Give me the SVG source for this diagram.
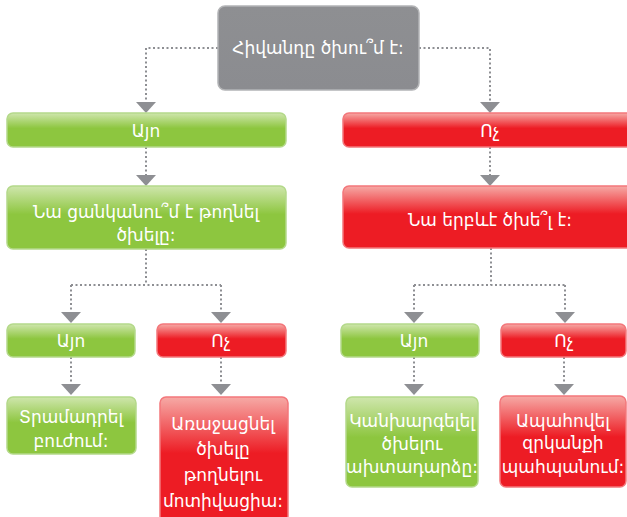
<svg xmlns="http://www.w3.org/2000/svg" width="627" height="517" viewBox="0 0 627 517">
  <defs>
    <linearGradient id="gGreen" x1="0" y1="0" x2="0" y2="1">
      <stop offset="0" stop-color="#cfe6ad"/>
      <stop offset="0.45" stop-color="#8dc63f"/>
      <stop offset="1" stop-color="#8dc63f"/>
    </linearGradient>
    <linearGradient id="gRed" x1="0" y1="0" x2="0" y2="1">
      <stop offset="0" stop-color="#f6aaa6"/>
      <stop offset="0.45" stop-color="#ed1c24"/>
      <stop offset="1" stop-color="#ed1c24"/>
    </linearGradient>
    <linearGradient id="gGray" x1="0" y1="0" x2="0" y2="1">
      <stop offset="0" stop-color="#8e8f92"/>
      <stop offset="1" stop-color="#8b8c90"/>
    </linearGradient>
  </defs>
  <style>
    .green { fill: url(#gGreen); stroke: #b4d98a; stroke-width: 1.5; }
    .red { fill: url(#gRed); stroke: #f3777b; stroke-width: 1.5; }
    .gray { fill: url(#gGray); stroke: #b3b4b6; stroke-width: 1.5; }
    .lbl { font-family: "DejaVu Sans", "Noto Sans", sans-serif; font-size: 17px; fill: #ffffff; text-anchor: middle; }
    .dot { fill: none; stroke: #8e8f93; stroke-width: 2; stroke-dasharray: 2 2.5; }
    .head { fill: #8e8f93; }
  </style>

  <g id="connectors">
    <path class="dot" d="M218 48 H146 V102"/>
    <path class="dot" d="M419 48 H490 V102"/>
    <path class="dot" d="M146 147 V175"/>
    <path class="dot" d="M490 147 V175"/>
    <path class="dot" d="M146 249 V285 M71 285 H221 M71 285 V312 M221 285 V312"/>
    <path class="dot" d="M491 248 V285 M414 285 H565 M414 285 V312 M565 285 V312"/>
    <path class="dot" d="M71 357 V384"/>
    <path class="dot" d="M221 357 V384"/>
    <path class="dot" d="M414 357 V384"/>
    <path class="dot" d="M564 357 V384"/>
    <polygon class="head" points="136,102 156,102 146,113"/>
    <polygon class="head" points="480,102 500,102 490,113"/>
    <polygon class="head" points="136,175 156,175 146,186"/>
    <polygon class="head" points="480,175 500,175 490,186"/>
    <polygon class="head" points="61,312 81,312 71,323"/>
    <polygon class="head" points="211,312 231,312 221,323"/>
    <polygon class="head" points="404,312 424,312 414,323"/>
    <polygon class="head" points="555,312 575,312 565,323"/>
    <polygon class="head" points="61,384 81,384 71,395"/>
    <polygon class="head" points="211,384 231,384 221,395"/>
    <polygon class="head" points="404,384 424,384 414,395"/>
    <polygon class="head" points="554,384 574,384 564,395"/>
  </g>

  <g id="root">
    <rect class="gray" x="218" y="6" width="201" height="84" rx="7"/>
    <text class="lbl" x="318" y="54">Հիվանդը ծխու՞մ է:</text>
  </g>

  <g id="yes1">
    <rect class="green" x="7" y="113" width="279" height="34" rx="6"/>
    <text class="lbl" x="146" y="137">Այո</text>
  </g>
  <g id="no1">
    <rect class="red" x="343" y="113" width="294" height="34" rx="6"/>
    <text class="lbl" x="490" y="137">Ոչ</text>
  </g>

  <g id="wantsQuit">
    <rect class="green" x="7" y="186" width="279" height="63" rx="6"/>
    <text class="lbl" x="146" y="218">Նա ցանկանու՞մ է թողնել</text>
    <text class="lbl" x="146" y="241">ծխելը:</text>
  </g>
  <g id="everSmoked">
    <rect class="red" x="343" y="186" width="294" height="62" rx="6"/>
    <text class="lbl" x="490" y="226">Նա երբևէ ծխե՞լ է:</text>
  </g>

  <g id="yes2">
    <rect class="green" x="7" y="324" width="128" height="33" rx="6"/>
    <text class="lbl" x="71" y="347">Այո</text>
  </g>
  <g id="no2">
    <rect class="red" x="157" y="324" width="129" height="33" rx="6"/>
    <text class="lbl" x="221" y="347">Ոչ</text>
  </g>
  <g id="yes3">
    <rect class="green" x="341" y="324" width="138" height="33" rx="6"/>
    <text class="lbl" x="414" y="347">Այո</text>
  </g>
  <g id="no3">
    <rect class="red" x="501" y="324" width="125" height="33" rx="6"/>
    <text class="lbl" x="564" y="347">Ոչ</text>
  </g>

  <g id="treatment">
    <rect class="green" x="7" y="397" width="129" height="57" rx="6"/>
    <text class="lbl" x="71" y="423">Տրամադրել</text>
    <text class="lbl" x="71" y="447">բուժում:</text>
  </g>
  <g id="motivation">
    <rect class="red" x="160" y="397" width="128" height="125" rx="6"/>
    <text class="lbl" x="223" y="430">Առաջացնել</text>
    <text class="lbl" x="223" y="455">ծխելը</text>
    <text class="lbl" x="223" y="481">թողնելու</text>
    <text class="lbl" x="223" y="507">մոտիվացիա:</text>
  </g>
  <g id="relapse">
    <rect class="green" x="346" y="397" width="132" height="90" rx="6"/>
    <text class="lbl" x="412" y="427">Կանխարգելել</text>
    <text class="lbl" x="412" y="450">ծխելու</text>
    <text class="lbl" x="412" y="473">ախտադարձը:</text>
  </g>
  <g id="abstinence">
    <rect class="red" x="500" y="396" width="126" height="91" rx="6"/>
    <text class="lbl" x="563" y="427">Ապահովել</text>
    <text class="lbl" x="563" y="449">զրկանքի</text>
    <text class="lbl" x="563" y="473">պահպանում:</text>
  </g>
</svg>
